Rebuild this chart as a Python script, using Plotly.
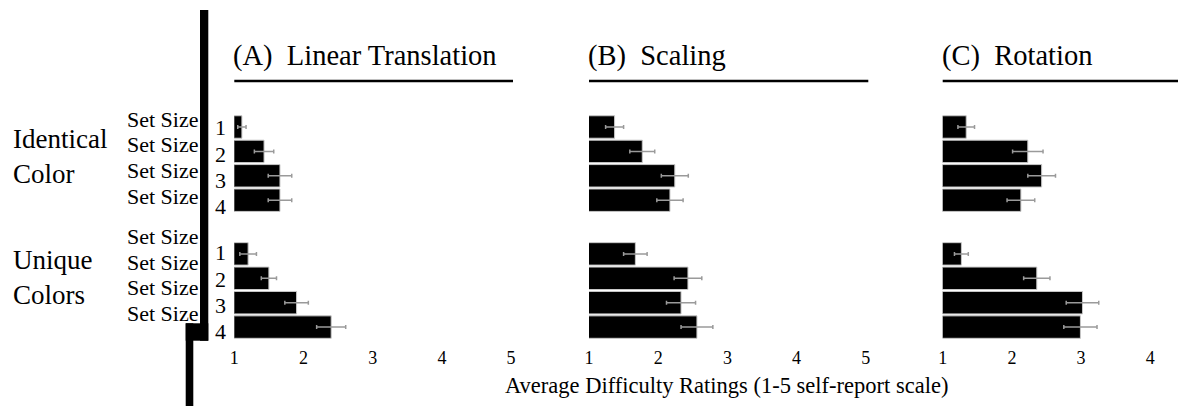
import plotly.graph_objects as go

# ---------------- data ----------------
panel_titles = ["(A)  Linear Translation", "(B)  Scaling", "(C)  Rotation"]
group_labels = ["Identical<br>Color", "Unique<br>Colors"]
set_size_label = "Set Size"
set_sizes = ["1", "2", "3", "4"]
x_title = "Average Difficulty Ratings (1-5 self-report scale)"

# mean ratings: [Identical Color sizes 1-4, Unique Colors sizes 1-4]
linear_identical = [1.11, 1.43, 1.66, 1.66]
linear_unique = [1.20, 1.50, 1.90, 2.40]
scaling_identical = [1.37, 1.77, 2.24, 2.17]
scaling_unique = [1.67, 2.43, 2.33, 2.56]
rotation_identical = [1.34, 2.23, 2.43, 2.13]
rotation_unique = [1.27, 2.36, 3.02, 2.99]

# standard errors
linear_identical_err = [0.06, 0.14, 0.17, 0.17]
linear_unique_err = [0.12, 0.11, 0.17, 0.21]
scaling_identical_err = [0.13, 0.18, 0.195, 0.19]
scaling_unique_err = [0.17, 0.20, 0.21, 0.23]
rotation_identical_err = [0.12, 0.22, 0.20, 0.20]
rotation_unique_err = [0.10, 0.19, 0.235, 0.24]

x_ticks = [1, 2, 3, 4, 5]

# ---------------- layout helpers ----------------
W, H = 1178, 406
FONT = "Liberation Serif, Times New Roman, serif"


def px(x):
    return x / W


def py(y):
    return 1 - y / H


GROUP_GAP = 5.2  # offset of second group on the categorical axis
y_pos = [i for i in range(4)] + [GROUP_GAP + i for i in range(4)]

panels = [
    (linear_identical + linear_unique, linear_identical_err + linear_unique_err),
    (scaling_identical + scaling_unique, scaling_identical_err + scaling_unique_err),
    (rotation_identical + rotation_unique, rotation_identical_err + rotation_unique_err),
]

# pixel extents of panels (left edge = value 1), 69.2 px per unit
panel_px = [(234.3, 513.0), (589.0, 868.3), (942.7, 1178.0)]
UNIT = 69.2
plot_top, plot_bot = 102.0, 345.0
row0_px, row_step = 127.0, 24.4
y_range = [(plot_bot - row0_px) / row_step, (plot_top - row0_px) / row_step]

fig = go.Figure()
layout = dict(
    autosize=True, height=H, margin=dict(l=0, r=0, t=0, b=0, autoexpand=False),
    paper_bgcolor="white", plot_bgcolor="white", showlegend=False,
    font=dict(family=FONT, color="black"),
)

for k, ((vals, errs), (l, r)) in enumerate(zip(panels, panel_px)):
    xa = "x" if k == 0 else f"x{k+1}"
    ya = "y" if k == 0 else f"y{k+1}"
    fig.add_trace(go.Bar(
        x=vals, y=y_pos, orientation="h", width=0.92,
        marker=dict(color="black", line=dict(color="#c8c8c8", width=1)),
        error_x=dict(type="data", array=errs, visible=True,
                     color="#9a9a9a", thickness=1.5, width=2),
        xaxis=xa, yaxis=ya, cliponaxis=True, hoverinfo="skip",
    ))
    xkey = "xaxis" if k == 0 else f"xaxis{k+1}"
    ykey = "yaxis" if k == 0 else f"yaxis{k+1}"
    layout[xkey] = dict(
        domain=[px(l), px(r)], range=[1, 1 + (r - l) / UNIT],
        anchor=ya, tickvals=x_ticks, ticktext=[str(t) for t in x_ticks],
        showgrid=False, zeroline=False, showline=False, ticks="",
        tickfont=dict(size=18, family=FONT, color="black"), fixedrange=True,
    )
    layout[ykey] = dict(
        domain=[py(plot_bot), py(plot_top)], range=y_range,
        anchor=xa, showgrid=False, zeroline=False, showline=False,
        showticklabels=False, ticks="", fixedrange=True,
    )

fig.update_layout(**layout)

annotations = []
shapes = []

# panel titles with underline
for k, (title, (l, r)) in enumerate(zip(panel_titles, panel_px)):
    annotations.append(dict(
        text=title, xref="paper", yref="paper", x=px(l - 3), y=py(56),
        xanchor="left", yanchor="middle", showarrow=False,
        font=dict(size=28.5, family=FONT, color="black"),
    ))
    xd = "x domain" if k == 0 else f"x{k+1} domain"
    shapes.append(dict(type="line", xref=xd, yref="paper", x0=0, x1=1,
                       y0=py(81), y1=py(81), line=dict(color="black", width=2.5)))

# group labels
for lbl, yc in zip(group_labels, [156, 277]):
    annotations.append(dict(
        text=lbl, xref="paper", yref="paper", x=px(11), y=py(yc),
        xanchor="left", yanchor="middle", align="left", showarrow=False,
        font=dict(size=27, family=FONT, color="black"),
    ))

# "Set Size" labels and set size digits
for g, (ss_top, dg_top) in enumerate([(120.0, 126.7), (237.3, 252.0)]):
    for i, s in enumerate(set_sizes):
        annotations.append(dict(
            text=set_size_label, xref="paper", yref="paper",
            x=px(201), y=py(ss_top + 25.8 * i - 1), xanchor="right", yanchor="middle",
            showarrow=False, font=dict(size=22, family=FONT, color="black"),
        ))
        annotations.append(dict(
            text=s, xref="paper", yref="paper",
            x=px(220), y=py(dg_top + 26.3 * i + 1), xanchor="center", yanchor="middle",
            showarrow=False, font=dict(size=22, family=FONT, color="black"),
        ))

# x-axis title
annotations.append(dict(
    text=x_title, xref="paper", yref="paper", x=px(726), y=py(385),
    xanchor="center", yanchor="middle", showarrow=False,
    font=dict(size=22.5, family=FONT, color="black"),
))

# thick black vertical separator
for x0, x1, y0, y1 in [(200, 208.3, 10, 340.7), (185.7, 208.3, 323.3, 340.7),
                       (185.7, 193.3, 323.3, 406)]:
    shapes.append(dict(type="rect", xref="paper", yref="paper",
                       x0=px(x0), x1=px(x1), y0=py(y1), y1=py(y0),
                       fillcolor="black", line=dict(width=0)))

fig.update_layout(annotations=annotations, shapes=shapes)
fig.write_html(
    "out.html",
    default_width="100%",
    default_height=f"{H}px",
    config={"displayModeBar": False, "responsive": True, "staticPlot": True},
    post_script=(
        "document.body.style.margin='0';document.body.style.padding='0';"
        "document.body.style.overflow='hidden';"
        "document.documentElement.style.overflow='hidden';"
        "var gd=document.getElementById('{plot_id}');"
        "gd.style.width='100vw';"
        "Plotly.relayout(gd,{width:window.innerWidth,height:" + str(H) + "});"
    ),
)
